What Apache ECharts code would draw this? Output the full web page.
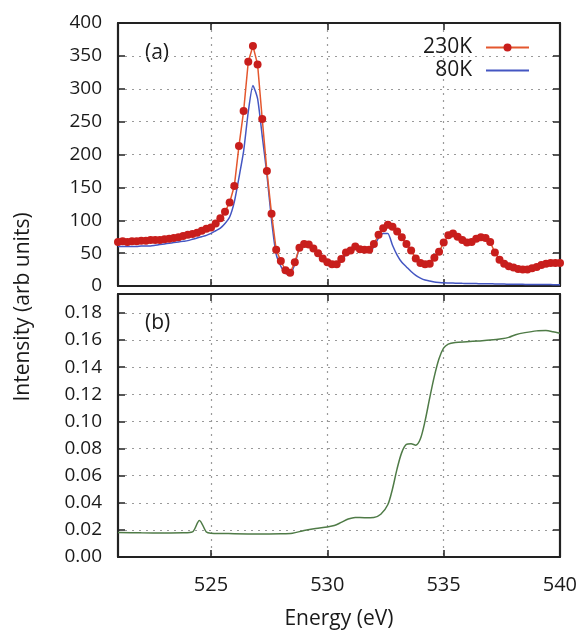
<!DOCTYPE html>
<html><head><meta charset="utf-8">
<script src="https://cdn.jsdelivr.net/npm/echarts@6/dist/echarts.min.js"></script>
<style>html,body{margin:0;padding:0;background:#fff}#c{width:580px;height:631px}</style>
</head><body><div id="c"></div>
<script>
// Panel (a): energies (eV) and intensities
const energyA = [521.0,521.2,521.4,521.6,521.8,522.0,522.2,522.4,522.6,522.8,
  523.0,523.2,523.4,523.6,523.8,524.0,524.2,524.4,524.6,524.8,
  525.0,525.2,525.4,525.6,525.8,526.0,526.2,526.4,526.6,526.8,
  527.0,527.2,527.4,527.6,527.8,528.0,528.2,528.4,528.6,528.8,
  529.0,529.2,529.4,529.6,529.8,530.0,530.2,530.4,530.6,530.8,
  531.0,531.2,531.4,531.6,531.8,532.0,532.2,532.4,532.6,532.8,
  533.0,533.2,533.4,533.6,533.8,534.0,534.2,534.4,534.6,534.8,
  535.0,535.2,535.4,535.6,535.8,536.0,536.2,536.4,536.6,536.8,
  537.0,537.2,537.4,537.6,537.8,538.0,538.2,538.4,538.6,538.8,
  539.0,539.2,539.4,539.6,539.8,540.0];
const int230K = [67,68,67,68,68,69,69,70,70,70,
  71,72,73,74,76,78,79,81,84,87,
  89,95,103,113,127,152,213,266,341,365,
  337,254,175,110,55,38,24,20,36,58,
  64,63,57,50,42,36,33,33,41,51,
  54,60,56,55,55,64,78,88,93,90,
  83,74,64,54,42,35,33,34,43,52,
  66,77,80,75,70,66,67,72,74,73,
  67,51,40,34,30,28,26,25,25,27,
  29,32,34,35,35,35];
const int80K = [60,60,60,60,60,61,61,61,62,63,
  64,65,66,67,68,69,71,73,75,77,
  80,84,88,95,105,128,165,205,265,305,
  285,228,170,100,48,30,19,18,33,58,
  66,62,57,48,39,32,29,31,38,48,
  53,56,56,53,51,60,73,80,80,62,
  47,36,29,22,16,12,9,7.5,6,5.3,
  4.8,4.6,4.4,4.2,4.0,3.9,3.8,3.7,3.5,3.4,
  3.3,3.2,3.0,2.9,2.8,2.7,2.6,2.5,2.4,2.3,
  2.2,2.2,2.1,2.1,2.0,2.0];
// Panel (b)
const energyB = [521.0,522.0,523.0,523.8,524.2,524.5,524.8,525.0,526.0,527.0,
  528.0,528.5,529.0,529.5,530.0,530.3,530.6,530.9,531.2,531.6,
  532.0,532.3,532.6,532.8,533.0,533.2,533.4,533.6,533.8,534.0,
  534.2,534.4,534.6,534.8,535.0,535.2,535.5,536.0,536.5,537.0,
  537.5,537.8,538.1,538.5,539.0,539.4,539.7,540.0];
const absB = [0.0180,0.0178,0.0177,0.0178,0.0185,0.0270,0.0185,0.0176,0.0172,0.0170,
  0.0172,0.0176,0.0195,0.0210,0.0222,0.0232,0.0255,0.0280,0.0292,0.0290,
  0.0292,0.0315,0.0385,0.0500,0.0650,0.0770,0.0830,0.0835,0.0825,0.0870,
  0.1000,0.1170,0.1330,0.1460,0.1540,0.1570,0.1582,0.1588,0.1594,0.1600,
  0.1610,0.1620,0.1640,0.1655,0.1668,0.1670,0.1662,0.1650];
const yTicksA = {min:0, max:400, interval:50};
const yTicksB = {min:0, max:0.194, interval:0.02};
const xRange = {min:521, max:540};

const FONT = 'Open Sans';
const TXT = '#1a1a1a';
const dotted = {show:true, showMinLine:false, showMaxLine:false, lineStyle:{color:'#9a9a9a', type:[2,5], width:1.2}};
const tick = {show:true, inside:true, length:7, lineStyle:{color:'#222', width:1.5}};
const frame = {show:true, onZero:false, lineStyle:{color:'#222', width:2.2}};
function xAx(gi, pos, labels, split){
  return {type:'value', gridIndex:gi, position:pos, min:xRange.min, max:xRange.max, splitNumber:4,
    axisLine:frame, axisTick:tick, splitLine: split?dotted:{show:false},
    axisLabel:{show:labels, showMinLabel:false, margin:18, fontSize:20, fontFamily:FONT, color:TXT}};
}
function yAx(gi, pos, t, labels, split, fmt){
  return {type:'value', gridIndex:gi, position:pos, min:t.min, max:t.max, interval:t.interval,
    axisLine:frame, axisTick:tick, splitLine: split?dotted:{show:false},
    axisLabel:{show:labels, showMaxLabel: gi===1 ? false : true, margin:16, fontSize:19, fontFamily:FONT, color:TXT, formatter:fmt}};
}
const xB = xAx(1,'bottom',true,true);
xB.name = 'Energy (eV)'; xB.nameLocation = 'middle'; xB.nameGap = 52;
xB.nameTextStyle = {fontSize:21, fontFamily:FONT, color:TXT};

const option = {
  animation:false,
  backgroundColor:'#fff',
  grid:[{left:118, top:23, width:442, height:263},
        {left:118, top:294, width:442, height:265}],
  xAxis:[xAx(0,'bottom',false,true), xB, xAx(0,'top',false,false), xAx(1,'top',false,false)],
  yAxis:[yAx(0,'left',yTicksA,true,true, v=>String(v)),
         yAx(1,'left',yTicksB,true,true, v=>v.toFixed(2)),
         yAx(0,'right',yTicksA,false,false), yAx(1,'right',yTicksB,false,false)],
  legend:{data:['230K', {name:'80K', itemStyle:{color:'rgba(0,0,0,0)', borderWidth:0, opacity:0}}],
    orient:'vertical', right:50, top:37, align:'right', padding:0,
    itemWidth:43, itemHeight:10, itemGap:2,
    textStyle:{fontSize:21, fontFamily:FONT, color:TXT, padding:[0,9,0,0]}},
  graphic:[
    {type:'text', left:145, top:43, style:{text:'(a)', fontSize:21, fontFamily:FONT, fill:TXT}},
    {type:'text', left:145, top:313, style:{text:'(b)', fontSize:21, fontFamily:FONT, fill:TXT}},
    {type:'text', x:23, y:307, rotation:Math.PI/2,
      style:{text:'Intensity (arb units)', fontSize:21, fontFamily:FONT, fill:TXT, align:'center', verticalAlign:'middle'}}
  ],
  series:[
    {name:'230K', type:'line', xAxisIndex:0, yAxisIndex:0,
      data:energyA.map((e,i)=>[e,int230K[i]]), symbol:'circle', symbolSize:8,
      itemStyle:{color:'#c81e1c'}, lineStyle:{color:'#e4572e', width:1.5}, z:3},
    {name:'80K', type:'line', xAxisIndex:0, yAxisIndex:0,
      data:energyA.map((e,i)=>[e,int80K[i]]), symbol:'none', smooth:0.2,
      itemStyle:{color:'#4456c2'}, lineStyle:{color:'#4456c2', width:1.5}, z:2},
    {name:'b', type:'line', xAxisIndex:1, yAxisIndex:1,
      data:energyB.map((e,i)=>[e,absB[i]]), symbol:'none', smooth:0.3,
      itemStyle:{color:'#4f7b47'}, lineStyle:{color:'#4f7b47', width:1.5}}
  ]
};
const chart = echarts.init(document.getElementById('c'), null, {renderer:'canvas'});
chart.setOption(option);
</script></body></html>
